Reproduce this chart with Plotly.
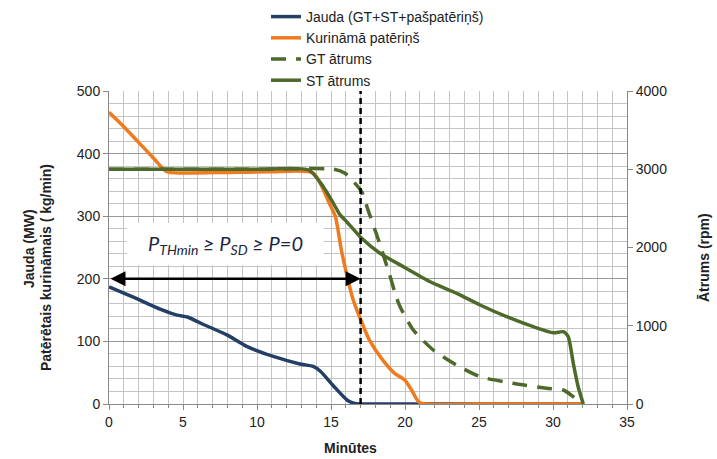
import plotly.graph_objects as go

# ---- data ----
time_power = [0, 1.6, 3.5, 4.6, 5.3, 6.2, 8.0, 9.3, 11.1, 12.9, 13.8, 14.3, 15.2, 16.1, 16.6, 17.2, 21, 32]
power = [187, 171, 151, 142, 139, 129, 110, 92, 76, 64, 60, 52, 28, 6, 1, 0, 0, 0]

time_fuel = [0, 1, 2, 3, 3.9, 5, 8, 11, 13.8, 14.9, 15.3, 15.7, 16.1, 16.5, 17.1, 17.6, 18.5, 19.3, 20.0, 20.45, 20.9, 21.3, 25, 32]
fuel = [466, 443, 418, 393, 371, 369, 370, 371, 369, 320, 299, 246, 203, 166, 129, 102, 70, 49, 38, 22, 4, 0, 0, 0]

time_gt = [0, 5, 10, 15.2, 15.95, 17.07, 17.5, 18.2, 18.93, 19.44, 19.7, 20.56, 21.91, 23.27, 25.07, 27.3, 29.57, 30.7, 31.37, 32.0]
gt_speed = [3000, 3000, 3000, 3000, 2948, 2713, 2480, 2100, 1670, 1351, 1230, 946, 690, 520, 349, 264, 200, 179, 93, 0]

time_st = [0, 5, 10, 13.5, 14.48, 15.16, 15.6, 16.06, 17.07, 18.31, 19.89, 21.7, 23.5, 25.07, 26.87, 28.67, 30.02, 30.7, 31.03, 31.37, 31.7, 32.05]
st_speed = [3000, 3000, 3000, 2990, 2777, 2565, 2420, 2330, 2117, 1926, 1755, 1563, 1414, 1265, 1116, 988, 911, 924, 860, 520, 221, 0]

shutdown_time = 17
arrow_level = 200
box_x = [1.2, 14.5]
box_y = [222, 289]

x_ticks = [0, 5, 10, 15, 20, 25, 30, 35]
y_ticks = [0, 100, 200, 300, 400, 500]
y2_ticks = [0, 1000, 2000, 3000, 4000]

names = ["Jauda (GT+ST+pašpatēriņš)", "Kurināmā patēriņš", "GT ātrums", "ST ātrums"]
x_title = "Minūtes"
y_title_1 = "Jauda (MW)"
y_title_2 = "Patērētais kurināmais ( kg/min)"
y2_title = "Ātrums (rpm)"

W, H = 717, 459
BLUE = "#243F66"
ORANGE = "#F07A1E"
GREEN = "#4E6A2A"
FONT = "Liberation Sans, Arial, sans-serif"

fig = go.Figure()
fig.add_trace(go.Scatter(x=time_power, y=power, name=names[0], mode="lines",
                         line=dict(color=BLUE, width=3.5, shape="spline", smoothing=0.6)))
fig.add_trace(go.Scatter(x=time_fuel, y=fuel, name=names[1], mode="lines",
                         line=dict(color=ORANGE, width=3.5, shape="spline", smoothing=0.6)))
fig.add_trace(go.Scatter(x=time_gt, y=gt_speed, name=names[2], mode="lines", yaxis="y2",
                         line=dict(color=GREEN, width=3.5, dash="15px,10px", shape="spline", smoothing=0.6)))
fig.add_trace(go.Scatter(x=time_st, y=st_speed, name=names[3], mode="lines", yaxis="y2",
                         line=dict(color=GREEN, width=3.5, shape="spline", smoothing=0.6)))

# white label box
fig.add_shape(type="rect", xref="x", yref="y", x0=box_x[0], x1=box_x[1], y0=box_y[0], y1=box_y[1],
              fillcolor="white", line=dict(width=0), layer="between")
# vertical dashed line at shutdown time
fig.add_shape(type="line", xref="x", yref="y", x0=shutdown_time, x1=shutdown_time, y0=0, y1=500,
              line=dict(color="black", width=2.5, dash="6px,4px"), layer="above")
# double-headed arrow
fig.add_annotation(x=shutdown_time, y=arrow_level, ax=0, ay=arrow_level, xref="x", yref="y",
                   axref="x", ayref="y", text="", showarrow=True, arrowhead=2, startarrowhead=2,
                   arrowside="end+start", arrowsize=1.2, startarrowsize=1.2, arrowwidth=2.5,
                   arrowcolor="black")
fig.add_annotation(x=(box_x[0] + box_x[1]) / 2, y=(box_y[0] + box_y[1]) / 2, xref="x", yref="y",
                   text="<i>P<sub>THmin</sub> ≥ P<sub>SD</sub> ≥ P=0</i>", showarrow=False,
                   font=dict(family="Lato, Open Sans, sans-serif", size=20, color="#1c2444"))

# axis titles as annotations (container-pixel placement)
title_font = dict(family=FONT, size=14, color="#222222")
def add_title(text, px, py, angle):
    fig.add_annotation(x=px / W, y=1 - py / H, xref="paper", yref="paper", text=f"<b>{text}</b>",
                       showarrow=False, textangle=angle, font=title_font,
                       xanchor="center", yanchor="middle")

# paper coords: convert pixel -> paper using plot area
L, R, T, B = 109, 90, 91, 55
PW, PH = W - L - R, H - T - B
def add_title_px(text, px, py, angle):
    fig.add_annotation(x=(px - L) / PW, y=(H - B - py) / PH, xref="paper", yref="paper",
                       text=f"<b>{text}</b>", showarrow=False, textangle=angle, font=title_font,
                       xanchor="center", yanchor="middle")

add_title_px(y_title_1, 29, 249, -90)
add_title_px(y_title_2, 46, 268, -90)
add_title_px(y2_title, 704, 258, -90)
add_title_px(x_title, 350, 448, 0)

axis_common = dict(showline=True, linecolor="#888888", linewidth=1, ticks="outside",
                   tickcolor="#888888", ticklen=5, tickfont=dict(family=FONT, size=14, color="#222222"),
                   zeroline=False)

fig.update_layout(
    width=W, height=H,
    margin=dict(l=L, r=R, t=T, b=B, autoexpand=False),
    paper_bgcolor="white", plot_bgcolor="white",
    font=dict(family=FONT, size=14, color="#222222"),
    showlegend=True,
    legend=dict(x=266 / W, y=1 - 1 / H, xref="container", yref="container",
                xanchor="left", yanchor="top", bgcolor="rgba(0,0,0,0)",
                font=dict(family=FONT, size=14, color="#222222"), tracegroupgap=0),
    xaxis=dict(range=[0, 35], tickvals=x_ticks, showgrid=True, gridcolor="#c4c4c4", gridwidth=1,
               minor=dict(dtick=1, showgrid=True, gridcolor="#c4c4c4", gridwidth=1, ticks="outside",
                          ticklen=3, tickcolor="#888888"),
               **axis_common),
    yaxis=dict(range=[0, 500], tickvals=y_ticks, showgrid=True, gridcolor="#9a9a9a", gridwidth=1,
               minor=dict(dtick=20, showgrid=True, gridcolor="#c4c4c4", gridwidth=1),
               **axis_common),
    yaxis2=dict(range=[0, 4000], tickvals=y2_ticks, overlaying="y", side="right", showgrid=False,
                **axis_common),
)

fig.write_html("out.html", config={"displayModeBar": False},
               post_script="document.body.style.margin='0px';")
